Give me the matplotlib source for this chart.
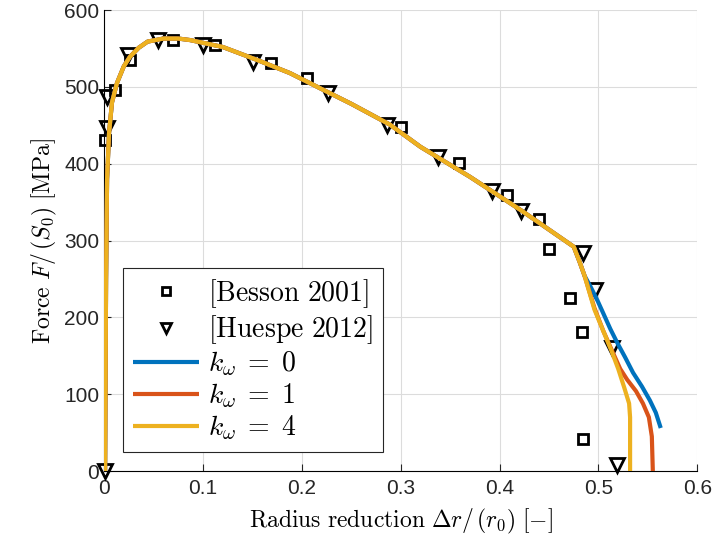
import numpy as np
import matplotlib.pyplot as plt

plt.rcParams['mathtext.fontset'] = 'cm'
plt.rcParams['font.family'] = ['Liberation Sans', 'DejaVu Sans']

besson_x = [0.001, 0.011, 0.026, 0.07, 0.112, 0.169, 0.205, 0.3, 0.359, 0.408,
            0.44, 0.45, 0.471, 0.483, 0.484]
besson_y = [431, 496, 535, 561, 555, 531, 512, 448, 401, 359, 328, 289, 225, 181, 42]

huespe_x = [0.001, 0.003, 0.003, 0.024, 0.055, 0.1, 0.151, 0.226, 0.286, 0.338,
            0.392, 0.422, 0.484, 0.497, 0.514, 0.519]
huespe_y = [0, 447, 487, 542, 561, 555, 533, 492, 450, 409, 365, 339, 284, 236, 160, 8]

# common part of the simulated curves
common_x = [0.001, 0.002, 0.003, 0.005, 0.008, 0.013, 0.02, 0.026, 0.035, 0.044,
            0.06, 0.075, 0.087, 0.12, 0.155, 0.188, 0.222, 0.25, 0.289, 0.32,
            0.37, 0.421, 0.475, 0.481, 0.486]
common_y = [0, 250, 380, 440, 480, 505, 527, 539, 551, 559,
            563, 563, 561, 552, 535, 518, 496, 478, 451, 422,
            383, 340, 292, 272, 254]

# tails after necking
k0_x = [0.492, 0.499, 0.505, 0.512, 0.519, 0.527, 0.535, 0.544, 0.552, 0.558, 0.563]
k0_y = [240, 222, 205, 185, 167, 148, 128, 110, 92, 76, 56]
k1_x = [0.496, 0.505, 0.515, 0.522, 0.529, 0.538, 0.545, 0.551, 0.554, 0.555]
k1_y = [212, 182, 153, 133, 119, 104, 88, 70, 45, 0]
k4_x = [0.496, 0.505, 0.513, 0.520, 0.526, 0.531, 0.532, 0.532]
k4_y = [210, 182, 157, 133, 109, 88, 70, 0]

colors = ['#0072BD', '#D95319', '#EDB120']
labels = [r'$k_\omega\;=\;0$', r'$k_\omega\;=\;1$', r'$k_\omega\;=\;4$']

fig = plt.figure(figsize=(7.13, 5.5), dpi=100)
ax = fig.add_axes([0.146, 0.1436, 0.832, 0.838])

ax.plot(besson_x, besson_y, 's', ms=7, mfc='none', mec='k', mew=2,
        label=r'$\mathrm{[Besson\ 2001]}$', zorder=3, clip_on=False)
ax.plot(huespe_x, huespe_y, 'v', ms=10.5, mfc='none', mec='k', mew=2,
        label=r'$\mathrm{[Huespe\ 2012]}$', zorder=3, clip_on=False)

for tx, ty, c, lab in zip([k0_x, k1_x, k4_x], [k0_y, k1_y, k4_y], colors, labels):
    ax.plot(common_x + tx, common_y + ty, '-', color=c, lw=3, label=lab,
            solid_capstyle='butt', zorder=4)

ax.set_xlim(0, 0.6)
ax.set_ylim(0, 600)
ax.set_xticks(np.arange(0, 0.61, 0.1))
ax.set_xticklabels(['0', '0.1', '0.2', '0.3', '0.4', '0.5', '0.6'])
ax.set_yticks(np.arange(0, 601, 100))
ax.grid(True, color='#dcdcdc', lw=0.8)
ax.set_axisbelow(True)
ax.spines['top'].set_visible(False)
ax.spines['right'].set_visible(False)
ax.tick_params(direction='in', length=5, labelsize=15, colors='#262626')
ax.xaxis.set_tick_params(pad=6)

ax.set_xlabel(r'$\mathrm{Radius\ reduction}\ \Delta r/\,(r_0)\ [-]$',
              fontsize=17, labelpad=6)
ax.set_ylabel(r'$\mathrm{Force}\ F/\,(S_0)\ \mathrm{[MPa]}$',
              fontsize=17, labelpad=4)

leg = ax.legend(loc='lower left', bbox_to_anchor=(0.032, 0.041), fontsize=20,
                fancybox=False, framealpha=1, edgecolor='#262626',
                handlelength=2.4, handletextpad=0.3, borderpad=0.35,
                labelspacing=0.12, borderaxespad=0, markerscale=0.75)
leg.get_frame().set_linewidth(0.8)

fig.savefig('out.png', dpi=100)
